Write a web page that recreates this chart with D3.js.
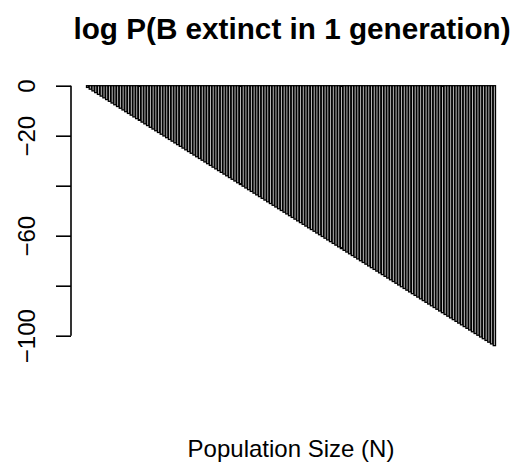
<!DOCTYPE html>
<html>
<head>
<meta charset="utf-8">
<script src="https://cdn.jsdelivr.net/npm/d3@7"></script>
<style>
  body { margin: 0; background: #fff; }
  svg text { font-family: "Liberation Sans", Arial, sans-serif; fill: #000; }
</style>
</head>
<body>
<svg id="chart" width="516" height="464"></svg>
<script>
// log P(B extinct in 1 generation), one bar per population size N = 1..150
var logProb = [
  -0.69, -1.39, -2.08, -2.77, -3.47, -4.16, -4.85, -5.55, -6.24, -6.93,
  -7.62, -8.32, -9.01, -9.70, -10.40, -11.09, -11.78, -12.48, -13.17, -13.86,
  -14.56, -15.25, -15.94, -16.64, -17.33, -18.02, -18.71, -19.41, -20.10, -20.79,
  -21.49, -22.18, -22.87, -23.57, -24.26, -24.95, -25.65, -26.34, -27.03, -27.73,
  -28.42, -29.11, -29.81, -30.50, -31.19, -31.88, -32.58, -33.27, -33.96, -34.66,
  -35.35, -36.04, -36.74, -37.43, -38.12, -38.82, -39.51, -40.20, -40.90, -41.59,
  -42.28, -42.98, -43.67, -44.36, -45.05, -45.75, -46.44, -47.13, -47.83, -48.52,
  -49.21, -49.91, -50.60, -51.29, -51.99, -52.68, -53.37, -54.07, -54.76, -55.45,
  -56.15, -56.84, -57.53, -58.22, -58.92, -59.61, -60.30, -61.00, -61.69, -62.38,
  -63.08, -63.77, -64.46, -65.16, -65.85, -66.54, -67.24, -67.93, -68.62, -69.31,
  -70.01, -70.70, -71.39, -72.09, -72.78, -73.47, -74.17, -74.86, -75.55, -76.25,
  -76.94, -77.63, -78.33, -79.02, -79.71, -80.40, -81.10, -81.79, -82.48, -83.18,
  -83.87, -84.56, -85.26, -85.95, -86.64, -87.34, -88.03, -88.72, -89.42, -90.11,
  -90.80, -91.50, -92.19, -92.88, -93.57, -94.27, -94.96, -95.65, -96.35, -97.04,
  -97.73, -98.43, -99.12, -99.81, -100.51, -101.20, -101.89, -102.59, -103.28, -103.97
];
var popSizes = logProb.map(function(d, i) { return i + 1; });
var yTicks = [0, -20, -40, -60, -80, -100];
var yTickLabels = ["0", "\u221220", "", "\u221260", "", "\u2212100"];

var title = "log P(B extinct in 1 generation)";
var xLabel = "Population Size (N)";

var svg = d3.select("#chart");

var x = d3.scaleBand()
  .domain(popSizes)
  .range([86.5, 495.5])
  .paddingInner(0.2 / 1.2)
  .paddingOuter(0);

var y = d3.scaleLinear()
  .domain([-100, 0])
  .range([335.7, 85.7]);

// bars
svg.append("g").classed("bars", true)
  .selectAll("rect")
  .data(logProb)
  .enter().append("rect")
    .attr("x", function(d, i) { return x(popSizes[i]); })
    .attr("y", y(0))
    .attr("width", x.bandwidth())
    .attr("height", function(d) { return y(d) - y(0); })
    .attr("fill", "#bebebe")
    .attr("stroke", "#000")
    .attr("stroke-width", 1.3);

// y axis
var yAxis = d3.axisLeft(y)
  .tickValues(yTicks)
  .tickSize(15)
  .tickFormat(function(d, i) { return yTickLabels[i]; });

var $yAxis = svg.append("g")
  .attr("transform", "translate(71, 0)")
  .call(yAxis);

$yAxis.select(".domain").attr("d", "M0," + y(0) + "V" + y(-100))
  .attr("stroke-width", 1.6);
$yAxis.selectAll(".tick line").attr("stroke-width", 1.6);
$yAxis.selectAll(".tick text")
  .attr("x", null).attr("dy", null)
  .attr("transform", "translate(-36, 0) rotate(-90)")
  .attr("text-anchor", "middle")
  .style("font-size", "24px")
  .style("font-family", "Liberation Sans, Arial, sans-serif");

// titles
svg.append("text")
  .attr("x", 292)
  .attr("y", 39)
  .attr("text-anchor", "middle")
  .style("font-size", "29.7px")
  .style("font-weight", "bold")
  .text(title);

svg.append("text")
  .attr("x", 291)
  .attr("y", 457)
  .attr("text-anchor", "middle")
  .style("font-size", "24px")
  .text(xLabel);
</script>
</body>
</html>
